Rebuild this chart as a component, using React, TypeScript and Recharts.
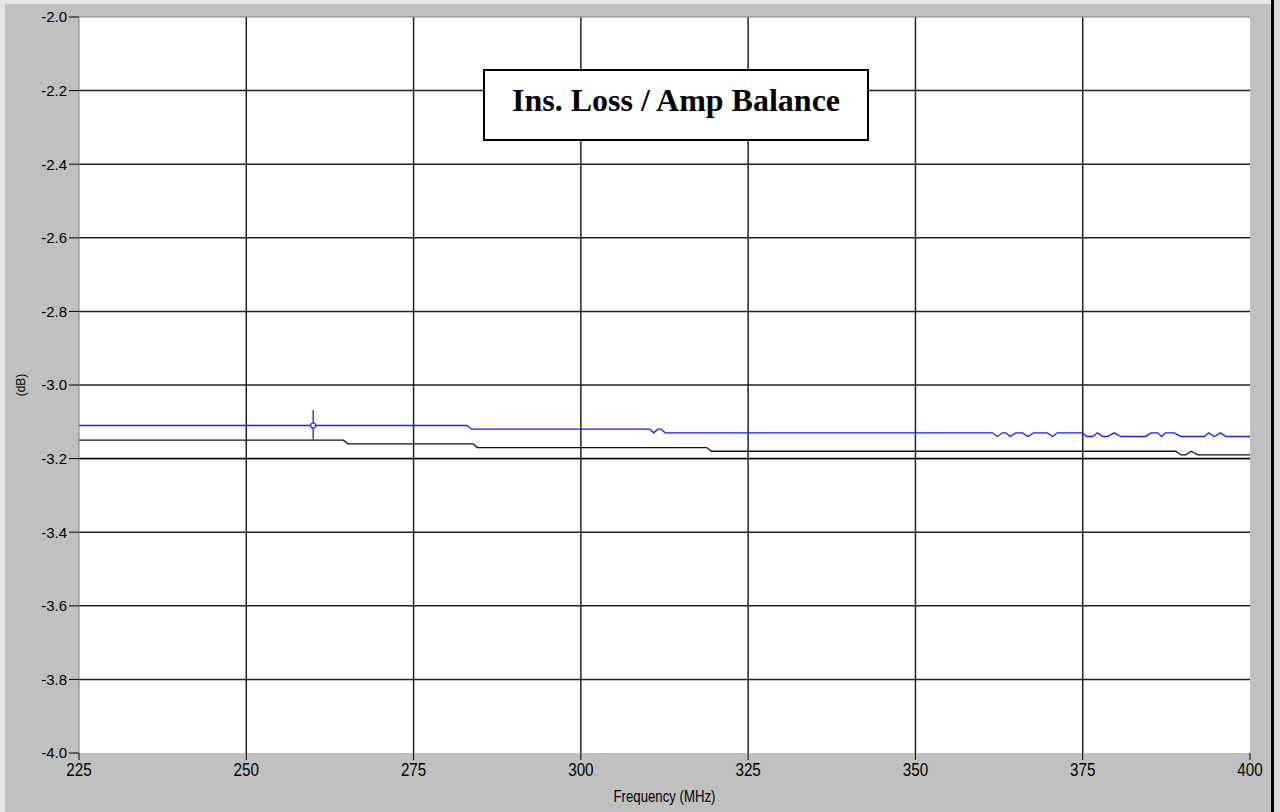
import { LineChart, Line, XAxis, YAxis, CartesianGrid, ReferenceLine, ReferenceDot } from "recharts";

// frequency (MHz), dB
const BLUE_TRACE: [number, number][] = [
  [225, -3.11], [283.0, -3.11], [283.7, -3.12], [310.3, -3.12], [310.9, -3.13], [311.5, -3.12],
  [312.0, -3.12], [312.6, -3.13], [361.5, -3.13], [362.25, -3.14], [363.0, -3.13], [363.5, -3.13],
  [364.15, -3.14], [365.0, -3.13], [366.0, -3.13], [366.8, -3.14], [367.65, -3.13], [369.7, -3.13],
  [370.5, -3.14], [371.2, -3.13], [375.0, -3.13], [375.6, -3.14], [376.5, -3.14], [377.2, -3.13],
  [378.0, -3.14], [378.7, -3.14], [379.7, -3.13], [380.7, -3.14], [384.4, -3.14], [385.2, -3.13],
  [386.2, -3.13], [386.8, -3.14], [387.4, -3.13], [388.7, -3.13], [389.7, -3.14], [393.2, -3.14],
  [393.8, -3.13], [394.7, -3.14], [395.6, -3.13], [396.4, -3.14], [400, -3.14],
];

const BLACK_TRACE: [number, number][] = [
  [225, -3.15], [264.5, -3.15], [265.2, -3.16], [283.9, -3.16], [284.5, -3.17], [318.8, -3.17],
  [319.5, -3.18], [388.9, -3.18], [389.7, -3.19], [390.4, -3.19], [391.2, -3.18], [392.2, -3.19],
  [400, -3.19],
];

const LIMIT_TRACE: [number, number][] = [
  [225, -3.2],
  [400, -3.2],
];

const X_TICKS = [225, 250, 275, 300, 325, 350, 375, 400];
const Y_TICKS = [-2.0, -2.2, -2.4, -2.6, -2.8, -3.0, -3.2, -3.4, -3.6, -3.8, -4.0];
const X_GRID = [250, 275, 300, 325, 350, 375];
const Y_GRID = [-2.2, -2.4, -2.6, -2.8, -3.0, -3.2, -3.4, -3.6, -3.8];

const CURSOR_FREQ = 260;
const CURSOR_DB = -3.11;
const CURSOR_SPAN: [number, number] = [-3.068, -3.148];

const toRows = (t: [number, number][]) => t.map(([f, db]) => ({ f, db }));

const SANS = "'Liberation Sans', Arial, sans-serif";

// the x axis uses a tall narrow face, faked by squeezing Liberation Sans
function NarrowTick(props: any) {
  const { x, y, payload } = props;
  return (
    <g transform={`translate(${x},${y}) scale(0.8,1)`}>
      <text x={0} y={0} dy="0.71em" textAnchor="middle" fontSize={19} fontFamily={SANS} fill="#000">
        {payload.value}
      </text>
    </g>
  );
}

function FreqLabel(props: any) {
  const vb = props.viewBox || { x: 79, y: 753, width: 1171, height: 59 };
  const cx = vb.x + vb.width / 2;
  const by = vb.y + vb.height - 10;
  return (
    <g transform={`translate(${cx},${by}) scale(0.8,1)`}>
      <text x={0} y={0} textAnchor="middle" fontSize={16.5} fontFamily={SANS} fill="#000">
        Frequency (MHz)
      </text>
    </g>
  );
}

function DbLabel(props: any) {
  const vb = props.viewBox || { x: 0, y: 17, width: 79, height: 736 };
  const cx = vb.x + 21;
  const cy = vb.y + vb.height / 2;
  return (
    <text x={cx} y={cy} transform={`rotate(-90 ${cx} ${cy})`} textAnchor="middle" dominantBaseline="central" fontSize={12} fontFamily={SANS} fill="#000">
      (dB)
    </text>
  );
}

export default function App() {
  return (
    <div style={{ position: "absolute", left: 0, top: 0, width: 1280, height: 812, background: "#c0c0c0", overflow: "hidden" }}>
      {/* window frame */}
      <div style={{ position: "absolute", left: 0, top: 0, width: 1271, height: 4, background: "#e6e6e6" }} />
      <div style={{ position: "absolute", left: 0, top: 0, width: 5, height: 812, background: "#e6e6e6" }} />
      <div style={{ position: "absolute", left: 1271, top: 0, width: 3, height: 812, background: "#000" }} />
      <div style={{ position: "absolute", left: 1274, top: 0, width: 6, height: 812, background: "#d8d8d8" }} />

      <div style={{ position: "absolute", left: 0, top: 0 }}>
        <LineChart width={1280} height={812} margin={{ top: 17, right: 30, bottom: 0, left: 0 }}>
          <CartesianGrid
            fill="#fff"
            stroke="#222"
            strokeWidth={1.5}
            horizontalValues={Y_GRID}
            verticalValues={X_GRID}
          />
          <XAxis
            type="number"
            dataKey="f"
            domain={[225, 400]}
            ticks={X_TICKS}
            allowDataOverflow
            height={59}
            axisLine={false}
            tickSize={7}
            tickMargin={3}
            tickLine={{ stroke: "#000" }}
            tick={<NarrowTick />}
            label={{ content: (p: any) => <FreqLabel {...p} /> }}
          />
          <YAxis
            type="number"
            domain={[-4, -2]}
            ticks={Y_TICKS}
            allowDataOverflow
            width={79}
            axisLine={{ stroke: "#808080" }}
            tickSize={10}
            tickMargin={2}
            tickLine={{ stroke: "#000" }}
            tickFormatter={(v: number) => v.toFixed(1)}
            tick={{ fontSize: 15, fill: "#000", fontFamily: SANS }}
            label={{ content: (p: any) => <DbLabel {...p} /> }}
          />
          <ReferenceLine y={-2} stroke="#808080" strokeWidth={1} />
          <Line data={toRows(LIMIT_TRACE)} dataKey="db" type="linear" stroke="#000" strokeWidth={1.3} dot={false} isAnimationActive={false} />
          <Line data={toRows(BLACK_TRACE)} dataKey="db" type="linear" stroke="#111" strokeWidth={1.3} dot={false} isAnimationActive={false} />
          <Line data={toRows(BLUE_TRACE)} dataKey="db" type="linear" stroke="#1a1aff" strokeWidth={1.3} dot={false} isAnimationActive={false} />
          <ReferenceLine
            segment={[{ x: CURSOR_FREQ, y: CURSOR_SPAN[0] }, { x: CURSOR_FREQ, y: CURSOR_SPAN[1] }]}
            stroke="#1a1aff"
            strokeWidth={1.3}
          />
          <ReferenceDot x={CURSOR_FREQ} y={CURSOR_DB} r={2.5} fill="#fff" stroke="#1a1aff" strokeWidth={1.2} />
        </LineChart>
      </div>

      <div
        style={{
          position: "absolute",
          left: 483,
          top: 69,
          width: 382,
          height: 68,
          border: "2px solid #000",
          background: "#fff",
          display: "flex",
          alignItems: "center",
          justifyContent: "center",
        }}
      >
        <span style={{ position: "relative", top: -5, fontFamily: "'Liberation Serif', 'Times New Roman', serif", fontWeight: "bold", fontSize: 32, color: "#000", whiteSpace: "nowrap" }}>
          Ins. Loss / Amp Balance
        </span>
      </div>
    </div>
  );
}
